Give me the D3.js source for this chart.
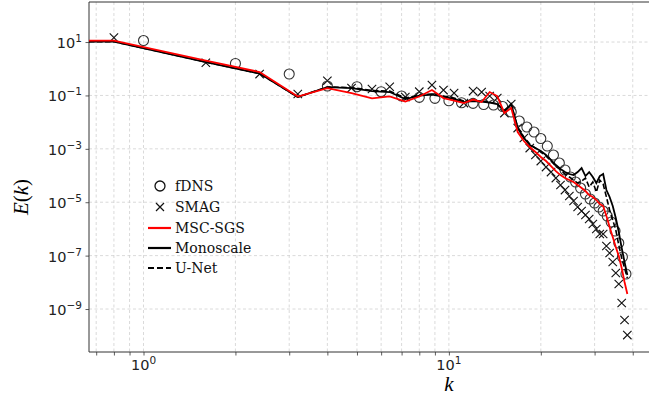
<!DOCTYPE html>
<html><head><meta charset="utf-8">
<script src="https://cdn.jsdelivr.net/npm/d3@7"></script>
<style>body{margin:0;background:#fff}svg{display:block}</style>
</head><body><svg id="c" width="649" height="402"></svg>
<script>
// ---------- data ----------
const kLine = [0.8,1.6,2.4,3.2,4.0,4.8,5.6,6.4,7.2,8.0,8.8,9.6,10.4,11.2,12.0,12.8,13.6,14.4,15.2,16.0,16.8,17.6,18.4,19.2,20.0,20.8,21.6,22.4,23.2,24.0,24.8,25.6,26.4,27.2,28.0,28.8,29.6,30.4,31.2,32.0,32.8,33.6,34.4,35.2,36.0,36.8,37.6,38.4];
const eMsc = [11.4,2.03,0.752,0.091,0.189,0.123,0.0779,0.0925,0.0591,0.091,0.159,0.0799,0.0644,0.0519,0.0702,0.0566,0.134,0.095,0.0219,0.0337,
  4.26e-3,1.96e-3,1.17e-3,7.59e-4,4.93e-4,3.49e-4,2.27e-4,1.47e-4,1.04e-4,8.05e-5,6.78e-5,5.71e-5,4.41e-5,3.40e-5,2.63e-5,1.86e-5,1.57e-5,1.21e-5,8.57e-6,7.21e-6,
  3.04e-6,1.18e-6,4.97e-7,2.10e-7,9.66e-8,3.43e-8,1.03e-8,3.65e-9];
const eMono = [10.4,1.78,0.661,0.0871,0.206,0.189,0.146,0.134,0.0733,0.0991,0.108,0.091,0.0733,0.0566,0.0617,0.0591,0.0542,0.0476,0.026,0.0476,
  6.01e-3,2.54e-3,1.39e-3,1.07e-3,8.27e-4,5.86e-4,3.81e-4,2.47e-4,1.75e-4,1.35e-4,1.14e-4,1.04e-4,1.35e-4,1.91e-4,9.57e-5,1.35e-4,8.79e-5,5.24e-5,9.57e-5,1.14e-4,
  2.86e-5,1.57e-5,7.21e-6,2.56e-6,7.65e-7,1.93e-7,5.76e-8,1.88e-8];
const eUnet = [10.4,1.78,0.661,0.0871,0.206,0.198,0.153,0.146,0.0799,0.104,0.113,0.095,0.0799,0.0617,0.0644,0.0617,0.0566,0.0476,0.0284,0.0437,
  6.55e-3,2.77e-3,1.51e-3,1.07e-3,7.59e-4,5.37e-4,3.49e-4,2.27e-4,1.61e-4,1.14e-4,8.79e-5,6.78e-5,5.24e-5,6.22e-5,8.05e-5,3.71e-5,5.71e-5,2.41e-5,6.78e-5,4.81e-5,
  1.57e-5,5.10e-6,2.15e-6,9.10e-7,2.49e-7,8.13e-8,3.43e-8,1.45e-8];
const kSmag = kLine;
const eSmag = [14.7,1.68,0.633,0.113,0.355,0.189,0.174,0.212,0.0871,0.138,0.245,0.159,0.123,0.0519,0.146,0.134,0.095,0.0799,0.0219,0.0476,
  6.01e-3,2.54e-3,1.07e-3,5.86e-4,3.49e-4,2.08e-4,1.35e-4,8.05e-5,4.41e-5,2.86e-5,1.71e-5,1.11e-5,6.61e-6,4.68e-6,3.32e-6,2.35e-6,1.53e-6,9.91e-7,6.44e-7,6.44e-7,
  2.29e-7,1.25e-7,5.76e-8,2.23e-8,8.63e-9,1.68e-9,3.87e-10,1.06e-10];
const kFdns = [1,2,3,4,5,6,7,8,9,10,11,12,13,14,15,16,17,18,19,20,21,22,23,24,25,26,27,28,29,30,31,32,33,34,35,36,37,38];
const eFdns = [11.4,1.57,0.633,0.225,0.212,0.138,0.095,0.0849,0.0779,0.0633,0.0533,0.0506,0.0456,0.0437,0.0384,0.0239,0.011,6.55e-3,4.26e-3,2.43e-3,
  1.27e-3,5.86e-4,2.94e-4,1.61e-4,8.79e-5,5.71e-5,3.40e-5,2.03e-5,1.32e-5,9.33e-6,6.61e-6,4.68e-6,3.04e-6,1.81e-6,8.34e-7,2.96e-7,8.87e-8,2.05e-8];
const xMajor = [1, 10];
const xMinor = [0.7,0.8,0.9,2,3,4,5,6,7,8,9,20,30,40];
const yMajor = [1e1,1e-1,1e-3,1e-5,1e-7,1e-9];
const legendLabels = ["fDNS","SMAG","MSC-SGS","Monoscale","U-Net"];

// ---------- layout ----------
const svg = d3.select("#c");
const L = 89, R = 653, T = 2, B = 352;
const x = d3.scaleLog().domain([0.663, 46.6]).range([L, R]);
const y = d3.scaleLog().domain([Math.pow(10,-10.61), Math.pow(10,2.5)]).range([B, T]);
const gridCol = "#d0d0d0", axCol = "#333";

svg.append("clipPath").attr("id","clip").append("rect")
  .attr("x",L).attr("y",T).attr("width",R-L).attr("height",B-T);

// grid
const grid = svg.append("g");
xMajor.concat(xMinor).forEach(v=>{
  grid.append("line").attr("x1",x(v)).attr("x2",x(v)).attr("y1",T).attr("y2",B)
    .attr("stroke",gridCol).attr("stroke-width",0.8).attr("stroke-dasharray","3,2.5");
});
yMajor.forEach(v=>{
  grid.append("line").attr("x1",L).attr("x2",R).attr("y1",y(v)).attr("y2",y(v))
    .attr("stroke",gridCol).attr("stroke-width",0.8).attr("stroke-dasharray","3,2.5");
});

// axes
const xAxis = d3.axisBottom(x).tickValues(xMajor.concat(xMinor)).tickSize(3.5).tickFormat("");
const gx = svg.append("g").attr("transform",`translate(0,${B})`).call(xAxis);
const yAxis = d3.axisLeft(y).tickValues(yMajor).tickSize(3.5).tickFormat("");
const gy = svg.append("g").attr("transform",`translate(${L},0)`).call(yAxis);
[gx,gy].forEach(g=>{ g.select(".domain").remove(); g.selectAll("line").attr("stroke",axCol).attr("stroke-width",0.8);});

// spines
svg.append("line").attr("x1",L).attr("x2",R).attr("y1",B).attr("y2",B).attr("stroke",axCol).attr("stroke-width",1);
svg.append("line").attr("x1",L).attr("x2",R).attr("y1",T).attr("y2",T).attr("stroke",axCol).attr("stroke-width",1);
svg.append("line").attr("x1",L).attr("x2",L).attr("y1",T).attr("y2",B).attr("stroke",axCol).attr("stroke-width",1);

// tick labels
function expLabel(g, v){
  const e = Math.round(Math.log10(v));
  g.append("tspan").text("10");
  g.append("tspan").attr("dy",-6).attr("font-size",10.5).text(e<0 ? "\u2212"+(-e) : String(e));
}
xMajor.forEach(v=>{
  const t = svg.append("text").attr("x",x(v)).attr("y",B+18).attr("text-anchor","middle")
    .attr("font-family","DejaVu Sans").attr("font-size",14.5).attr("fill","#222");
  expLabel(t,v);
});
yMajor.forEach(v=>{
  const t = svg.append("text").attr("x",L-7).attr("y",y(v)+6).attr("text-anchor","end")
    .attr("font-family","DejaVu Sans").attr("font-size",14.5).attr("fill","#222");
  expLabel(t,v);
});

// axis labels
svg.append("text").attr("x",x(10)).attr("y",391).attr("text-anchor","middle")
  .attr("font-family","Liberation Serif").attr("font-style","italic").attr("font-size",21).text("k");
const yl = svg.append("text").attr("transform","translate(28,197) rotate(-90)").attr("text-anchor","middle")
  .attr("font-family","Liberation Serif").attr("font-size",21);
yl.append("tspan").attr("font-style","italic").text("E");
yl.append("tspan").text("(");
yl.append("tspan").attr("font-style","italic").text("k");
yl.append("tspan").text(")");

// ---------- marks ----------
const plot = svg.append("g").attr("clip-path","url(#clip)");
function lineData(vals){
  const pts = kLine.map((k,i)=>({k, e: vals[i]}));
  return [{k: x.domain()[0], e: vals[0]}].concat(pts);
}
const line = d3.line().x(d=>x(d.k)).y(d=>y(d.e));

// markers
const crossSize = 4.2;
plot.append("g").selectAll("path").data(kSmag.map((k,i)=>({k,e:eSmag[i]}))).join("path")
  .attr("d",d=>{const cx=x(d.k), cy=y(d.e), s=crossSize;
    return `M${cx-s},${cy-s}L${cx+s},${cy+s}M${cx-s},${cy+s}L${cx+s},${cy-s}`;})
  .attr("stroke","#111").attr("stroke-width",1.1).attr("fill","none");
plot.append("g").selectAll("circle").data(kFdns.map((k,i)=>({k,e:eFdns[i]}))).join("circle")
  .attr("cx",d=>x(d.k)).attr("cy",d=>y(d.e)).attr("r",5)
  .attr("fill","none").attr("stroke","#333").attr("stroke-width",1.1);

plot.append("path").datum(lineData(eMono)).attr("d",line)
  .attr("fill","none").attr("stroke","#000").attr("stroke-width",1.8);
plot.append("path").datum(lineData(eUnet)).attr("d",line)
  .attr("fill","none").attr("stroke","#000").attr("stroke-width",1.6).attr("stroke-dasharray","5.5,2.5");
plot.append("path").datum(lineData(eMsc)).attr("d",line)
  .attr("fill","none").attr("stroke","#ff0000").attr("stroke-width",1.8);

// ---------- legend ----------
const lg = svg.append("g");
const rowY = [186, 207, 228, 248, 268];
const lx = 160, tx = 175;
legendLabels.forEach((lab,i)=>{
  lg.append("text").attr("x",tx).attr("y",rowY[i]+5).attr("font-family","DejaVu Serif")
    .attr("font-size",14).attr("fill","#111").text(lab);
});
lg.append("circle").attr("cx",lx).attr("cy",rowY[0]).attr("r",5).attr("fill","none").attr("stroke","#111").attr("stroke-width",1.3);
lg.append("path").attr("d",`M${lx-4},${rowY[1]-4}L${lx+4},${rowY[1]+4}M${lx-4},${rowY[1]+4}L${lx+4},${rowY[1]-4}`)
  .attr("stroke","#111").attr("stroke-width",1.2);
lg.append("line").attr("x1",148).attr("x2",171).attr("y1",rowY[2]).attr("y2",rowY[2]).attr("stroke","#ff0000").attr("stroke-width",2.2);
lg.append("line").attr("x1",148).attr("x2",171).attr("y1",rowY[3]).attr("y2",rowY[3]).attr("stroke","#000").attr("stroke-width",2.2);
lg.append("line").attr("x1",148).attr("x2",171).attr("y1",rowY[4]).attr("y2",rowY[4]).attr("stroke","#000").attr("stroke-width",2.2).attr("stroke-dasharray","6,3");
</script></body></html>
